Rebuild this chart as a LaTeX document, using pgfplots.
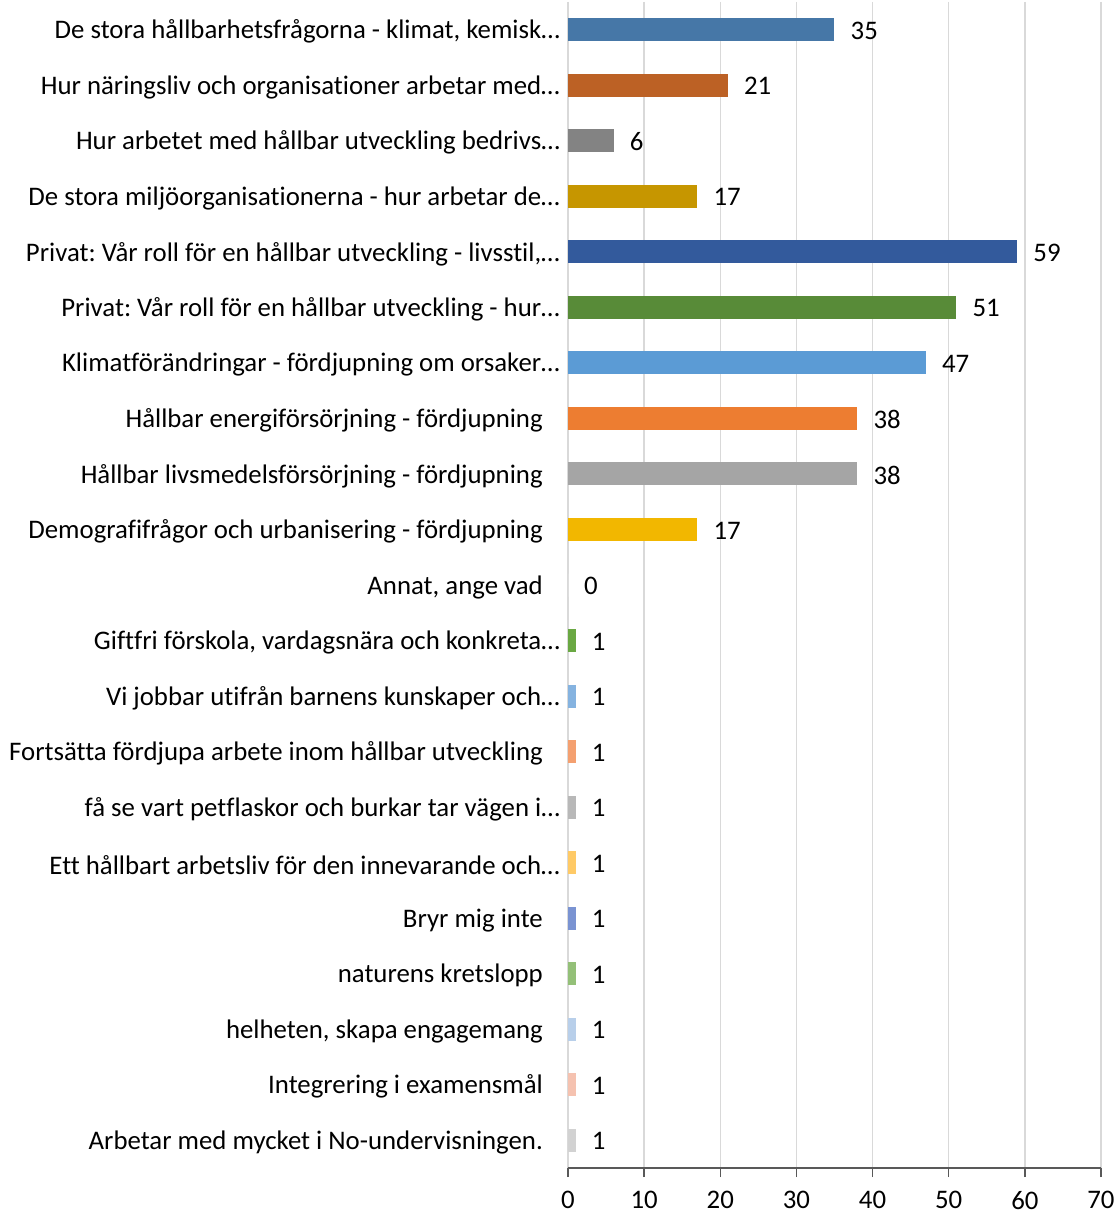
\documentclass[border=0pt]{standalone}
\usepackage{pgfplots}
\pgfplotsset{compat=1.18}
\usepackage{fontspec}
\setmainfont{Carlito}[Ligatures={NoCommon}]
\frenchspacing
\definecolor{c0}{HTML}{4677A7}
\definecolor{c1}{HTML}{BC6125}
\definecolor{c2}{HTML}{838383}
\definecolor{c3}{HTML}{C69600}
\definecolor{c4}{HTML}{335A9C}
\definecolor{c5}{HTML}{588B38}
\definecolor{c6}{HTML}{5B9BD5}
\definecolor{c7}{HTML}{ED7D31}
\definecolor{c8}{HTML}{A5A5A5}
\definecolor{c9}{HTML}{F2B700}
\definecolor{c10}{HTML}{FFFFFF}
\definecolor{c11}{HTML}{6AA843}
\definecolor{c12}{HTML}{85B3E0}
\definecolor{c13}{HTML}{F4A070}
\definecolor{c14}{HTML}{B8B8B8}
\definecolor{c15}{HTML}{FFCA66}
\definecolor{c16}{HTML}{7A93D2}
\definecolor{c17}{HTML}{94C078}
\definecolor{c18}{HTML}{B8CFEA}
\definecolor{c19}{HTML}{F5C2B0}
\definecolor{c20}{HTML}{D2D2D2}
\definecolor{gridc}{HTML}{D9D9D9}
\definecolor{axc}{HTML}{595959}
\newcommand{\pad}{\hspace*{17pt}}
\newcommand{\fs}{\fontsize{26.8}{30}\selectfont}
\begin{document}
\begin{tikzpicture}
\begin{axis}[
  name=ax,
  scale only axis,
  width=533pt, height=1166pt,
  xbar, bar width=23pt, bar shift=0pt,
  xmin=0, xmax=70,
  ymin=-0.5, ymax=20.5,
  y dir=reverse,
  xtick={0,10,...,70},
  ytick={0,...,20},
  yticklabels={
    {De stora hållbarhetsfrågorna - klimat, kemisk…},
    Hur näringsliv och organisationer arbetar med…,
    Hur arbetet med hållbar utveckling bedrivs…,
    De stora miljöorganisationerna - hur arbetar de…,
    {Privat: Vår roll för en hållbar utveckling - livsstil,…},
    Privat: Vår roll för en hållbar utveckling - hur…,
    Klimatförändringar - fördjupning om orsaker…,
    Hållbar energiförsörjning - fördjupning\pad,
    Hållbar livsmedelsförsörjning - fördjupning\pad,
    Demografifrågor och urbanisering - fördjupning\pad,
    {Annat, ange vad\pad},
    {Giftfri förskola, vardagsnära och konkreta…},
    Vi jobbar utifrån barnens kunskaper och…,
    Fortsätta fördjupa arbete inom hållbar utveckling\pad,
    få se vart petflaskor och burkar tar vägen i…,
    Ett hållbart arbetsliv för den innevarande och…,
    Bryr mig inte\pad,
    naturens kretslopp\pad,
    {helheten, skapa engagemang\pad},
    Integrering i examensmål\pad,
    Arbetar med mycket i No-undervisningen.\pad
  },
  ytick style={draw=none},
  yticklabel style={font=\fs, inner sep=0pt, xshift=1pt, yshift=-2pt, anchor=east},
  xticklabel style={font=\fs, inner sep=0pt, yshift=-14pt},
  /pgf/number format/assume math mode=true,
  axis line style={draw=none},
  xtick pos=bottom,
  tick align=outside,
  major tick length=9pt,
  xtick style={draw=axc, line width=1.5pt},
  xmajorgrids,
  grid style={draw=gridc, line width=1.3pt},
  nodes near coords,
  every node near coord/.append style={anchor=west, inner sep=0pt, xshift=16pt, yshift=-1pt, font=\fs, text=black},
  clip=false,
]
\addplot[fill=c0, draw=none] coordinates {(35,0)};
\addplot[fill=c1, draw=none] coordinates {(21,1)};
\addplot[fill=c2, draw=none] coordinates {(6,2)};
\addplot[fill=c3, draw=none] coordinates {(17,3)};
\addplot[fill=c4, draw=none] coordinates {(59,4)};
\addplot[fill=c5, draw=none] coordinates {(51,5)};
\addplot[fill=c6, draw=none] coordinates {(47,6)};
\addplot[fill=c7, draw=none] coordinates {(38,7)};
\addplot[fill=c8, draw=none] coordinates {(38,8)};
\addplot[fill=c9, draw=none] coordinates {(17,9)};
\addplot[fill=c10, draw=none] coordinates {(0,10)};
\addplot[fill=c11, draw=none] coordinates {(1,11)};
\addplot[fill=c12, draw=none] coordinates {(1,12)};
\addplot[fill=c13, draw=none] coordinates {(1,13)};
\addplot[fill=c14, draw=none] coordinates {(1,14)};
\addplot[fill=c15, draw=none] coordinates {(1,15)};
\addplot[fill=c16, draw=none] coordinates {(1,16)};
\addplot[fill=c17, draw=none] coordinates {(1,17)};
\addplot[fill=c18, draw=none] coordinates {(1,18)};
\addplot[fill=c19, draw=none] coordinates {(1,19)};
\addplot[fill=c20, draw=none] coordinates {(1,20)};
\draw[axc, line width=1.5pt] (axis description cs:0,0) -- (axis description cs:1,0);
\end{axis}
\pgfresetboundingbox
\path ([shift={(-568pt,-46pt)}]ax.south west) rectangle ++(1119pt,1214pt);
\end{tikzpicture}
\end{document}
